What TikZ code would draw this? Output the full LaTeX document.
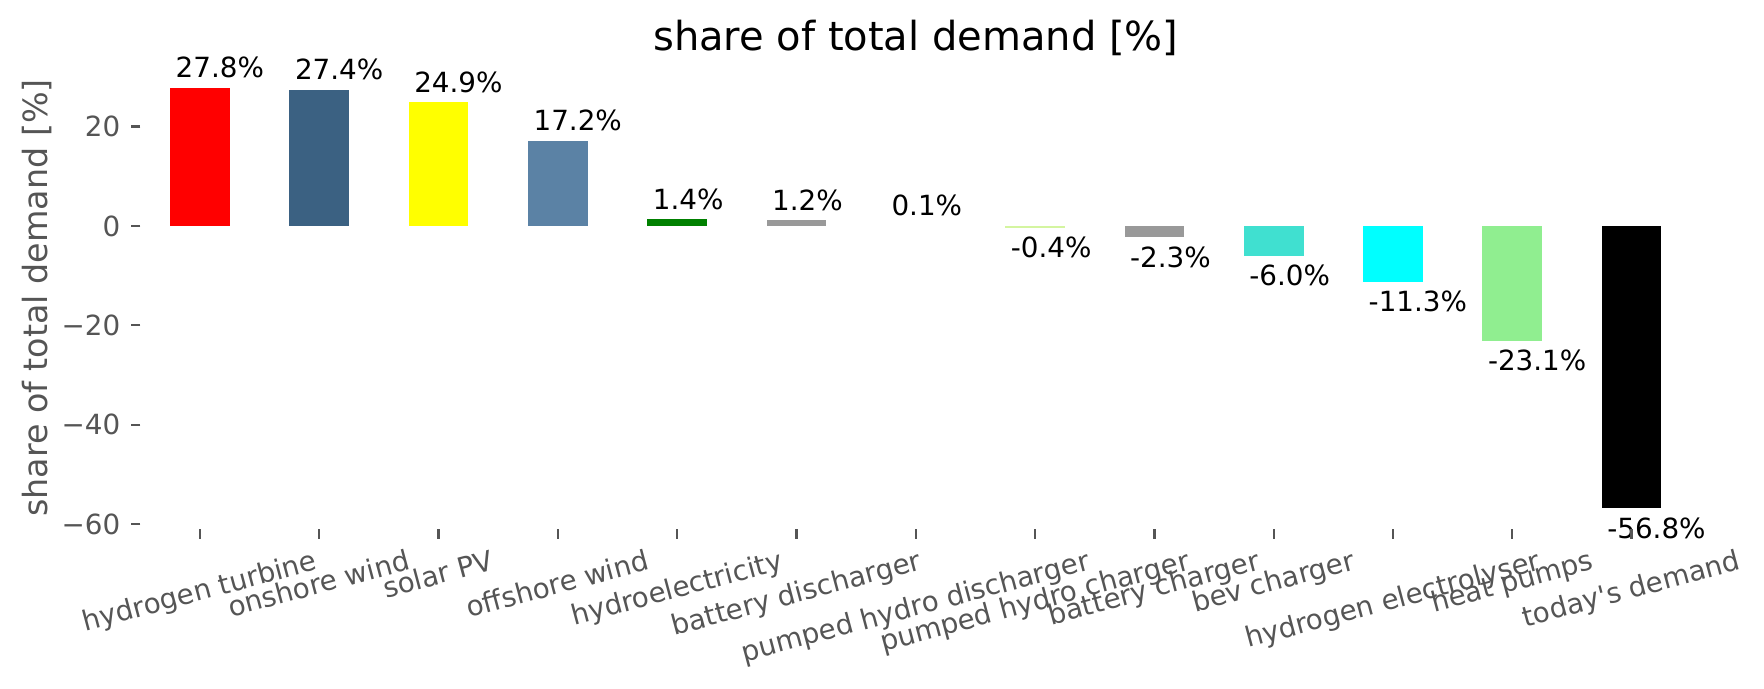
\documentclass[tikz,border=0pt]{standalone}
\usepackage{fontspec}
\setmainfont{DejaVu Sans}
\usepackage{tikz}

\definecolor{turbine}{HTML}{FF0000}
\definecolor{onwind}{HTML}{3B6182}
\definecolor{solar}{HTML}{FFFF00}
\definecolor{offwind}{HTML}{5B82A5}
\definecolor{hydro}{HTML}{008000}
\definecolor{battery}{HTML}{999999}
\definecolor{phscharge}{HTML}{D4F5A0}
\definecolor{bev}{HTML}{40E0D0}
\definecolor{electrolyser}{HTML}{00FFFF}
\definecolor{heatpump}{HTML}{90EE90}
\definecolor{axgray}{HTML}{555555}

\begin{document}
\begin{tikzpicture}[x=42.948pt, y=1.7892pt,
    val/.style={inner sep=0pt, anchor=base west, font=\fontsize{10}{12}\selectfont},
    ytick/.style={inner sep=0pt, anchor=east, text height=7.29pt, text depth=0pt, text=axgray, font=\fontsize{10}{12}\selectfont},
    xtick/.style={inner sep=0pt, rotate=15, text height=7.6pt, text depth=2.1pt, text=axgray, font=\fontsize{10}{12}\selectfont},
    tickmark/.style={draw=axgray, line width=0.8pt}]
            \useasboundingbox (-1.6764,-93.159) rectangle (13.1098,45.473);

            \fill [turbine] (-0.25,0) rectangle (0.25,27.8);
            \fill [onwind] (0.75,0) rectangle (1.25,27.4);
            \fill [solar] (1.75,0) rectangle (2.25,24.9);
            \fill [offwind] (2.75,0) rectangle (3.25,17.2);
            \fill [hydro] (3.75,0) rectangle (4.25,1.4);
            \fill [battery] (4.75,0) rectangle (5.25,1.2);
            \fill [phscharge] (6.75,0) rectangle (7.25,-0.4);
            \fill [battery] (7.75,0) rectangle (8.25,-2.3);
            \fill [bev] (8.75,0) rectangle (9.25,-6.0);
            \fill [electrolyser] (9.75,0) rectangle (10.25,-11.3);
            \fill [heatpump] (10.75,0) rectangle (11.25,-23.1);
            \fill [black] (11.75,0) rectangle (12.25,-56.8);

            \node [val] (v1) at ([xshift=1.8pt,yshift=3.6pt]-0.25,27.8) {27.8\%};
            \node [val] (v2) at ([xshift=1.8pt,yshift=3.6pt]0.75,27.4) {27.4\%};
            \node [val] (v3) at ([xshift=1.8pt,yshift=3.6pt]1.75,24.9) {24.9\%};
            \node [val] (v4) at ([xshift=1.8pt,yshift=3.6pt]2.75,17.2) {17.2\%};
            \node [val] (v5) at ([xshift=1.8pt,yshift=3.6pt]3.75,1.4) {1.4\%};
            \node [val] (v6) at ([xshift=1.8pt,yshift=3.6pt]4.75,1.2) {1.2\%};
            \node [val] (v7) at ([xshift=1.8pt,yshift=3.6pt]5.75,0.1) {0.1\%};
            \node [val] (v8) at ([xshift=1.8pt,yshift=-10.7pt]6.75,-0.4) {-0.4\%};
            \node [val] (v9) at ([xshift=1.8pt,yshift=-10.7pt]7.75,-2.3) {-2.3\%};
            \node [val] (v10) at ([xshift=1.8pt,yshift=-10.7pt]8.75,-6.0) {-6.0\%};
            \node [val] (v11) at ([xshift=1.8pt,yshift=-10.7pt]9.75,-11.3) {-11.3\%};
            \node [val] (v12) at ([xshift=1.8pt,yshift=-10.7pt]10.75,-23.1) {-23.1\%};
            \node [val] (v13) at ([xshift=1.8pt,yshift=-10.7pt]11.75,-56.8) {-56.8\%};

            \draw [tickmark] (-0.5,20) -- ++(-3.5pt,0);
            \draw [tickmark] (-0.5,0) -- ++(-3.5pt,0);
            \draw [tickmark] (-0.5,-20) -- ++(-3.5pt,0);
            \draw [tickmark] (-0.5,-40) -- ++(-3.5pt,0);
            \draw [tickmark] (-0.5,-60) -- ++(-3.5pt,0);

            \node [ytick] (y20) at ([xshift=-7pt]-0.5,20) {20};
            \node [ytick] (y0) at ([xshift=-7pt]-0.5,0) {0};
            \node [ytick] (ym20) at ([xshift=-7pt]-0.5,-20) {−20};
            \node [ytick] (ym40) at ([xshift=-7pt]-0.5,-40) {−40};
            \node [ytick] (ym60) at ([xshift=-7pt]-0.5,-60) {−60};

            \draw [tickmark] (0,-61.03) -- ++(0,-3.5pt);
            \draw [tickmark] (1,-61.03) -- ++(0,-3.5pt);
            \draw [tickmark] (2,-61.03) -- ++(0,-3.5pt);
            \draw [tickmark] (3,-61.03) -- ++(0,-3.5pt);
            \draw [tickmark] (4,-61.03) -- ++(0,-3.5pt);
            \draw [tickmark] (5,-61.03) -- ++(0,-3.5pt);
            \draw [tickmark] (6,-61.03) -- ++(0,-3.5pt);
            \draw [tickmark] (7,-61.03) -- ++(0,-3.5pt);
            \draw [tickmark] (8,-61.03) -- ++(0,-3.5pt);
            \draw [tickmark] (9,-61.03) -- ++(0,-3.5pt);
            \draw [tickmark] (10,-61.03) -- ++(0,-3.5pt);
            \draw [tickmark] (11,-61.03) -- ++(0,-3.5pt);
            \draw [tickmark] (12,-61.03) -- ++(0,-3.5pt);

            \node [xtick] (l1) at ([yshift=-22.92pt]0,-61.03) {hydrogen turbine};
            \node [xtick] (l2) at ([yshift=-20.38pt]1,-61.03) {onshore wind};
            \node [xtick] (l3) at ([yshift=-16.91pt]2,-61.03) {solar PV};
            \node [xtick] (l4) at ([yshift=-20.47pt]3,-61.03) {offshore wind};
            \node [xtick] (l5) at ([yshift=-21.82pt]4,-61.03) {hydroelectricity};
            \node [xtick] (l6) at ([yshift=-23.68pt]5,-61.03) {battery discharger};
            \node [xtick] (l7) at ([yshift=-28.44pt]6,-61.03) {pumped hydro discharger};
            \node [xtick] (l8) at ([yshift=-26.58pt]7,-61.03) {pumped hydro charger};
            \node [xtick] (l9) at ([yshift=-21.82pt]8,-61.03) {battery charger};
            \node [xtick] (l10) at ([yshift=-19.48pt]9,-61.03) {bev charger};
            \node [xtick] (l11) at ([yshift=-25.88pt]10,-61.03) {hydrogen electrolyser};
            \node [xtick] (l12) at ([yshift=-19.41pt]11,-61.03) {heat pumps};
            \node [xtick] (l13) at ([yshift=-22.11pt]12,-61.03) {today\textquotesingle s demand};

            \node [inner sep=0pt, anchor=base, font=\fontsize{14.4}{17}\selectfont] (title) at ([yshift=6pt]6,32.03) {share of total demand [\%]};
            \node [inner sep=0pt, anchor=base, rotate=90, text=axgray, font=\fontsize{12}{14}\selectfont] (ylabel) at ([xshift=-33.5pt]-0.5,-14.5) {share of total demand [\%]};
        \end{tikzpicture}
\end{document}
